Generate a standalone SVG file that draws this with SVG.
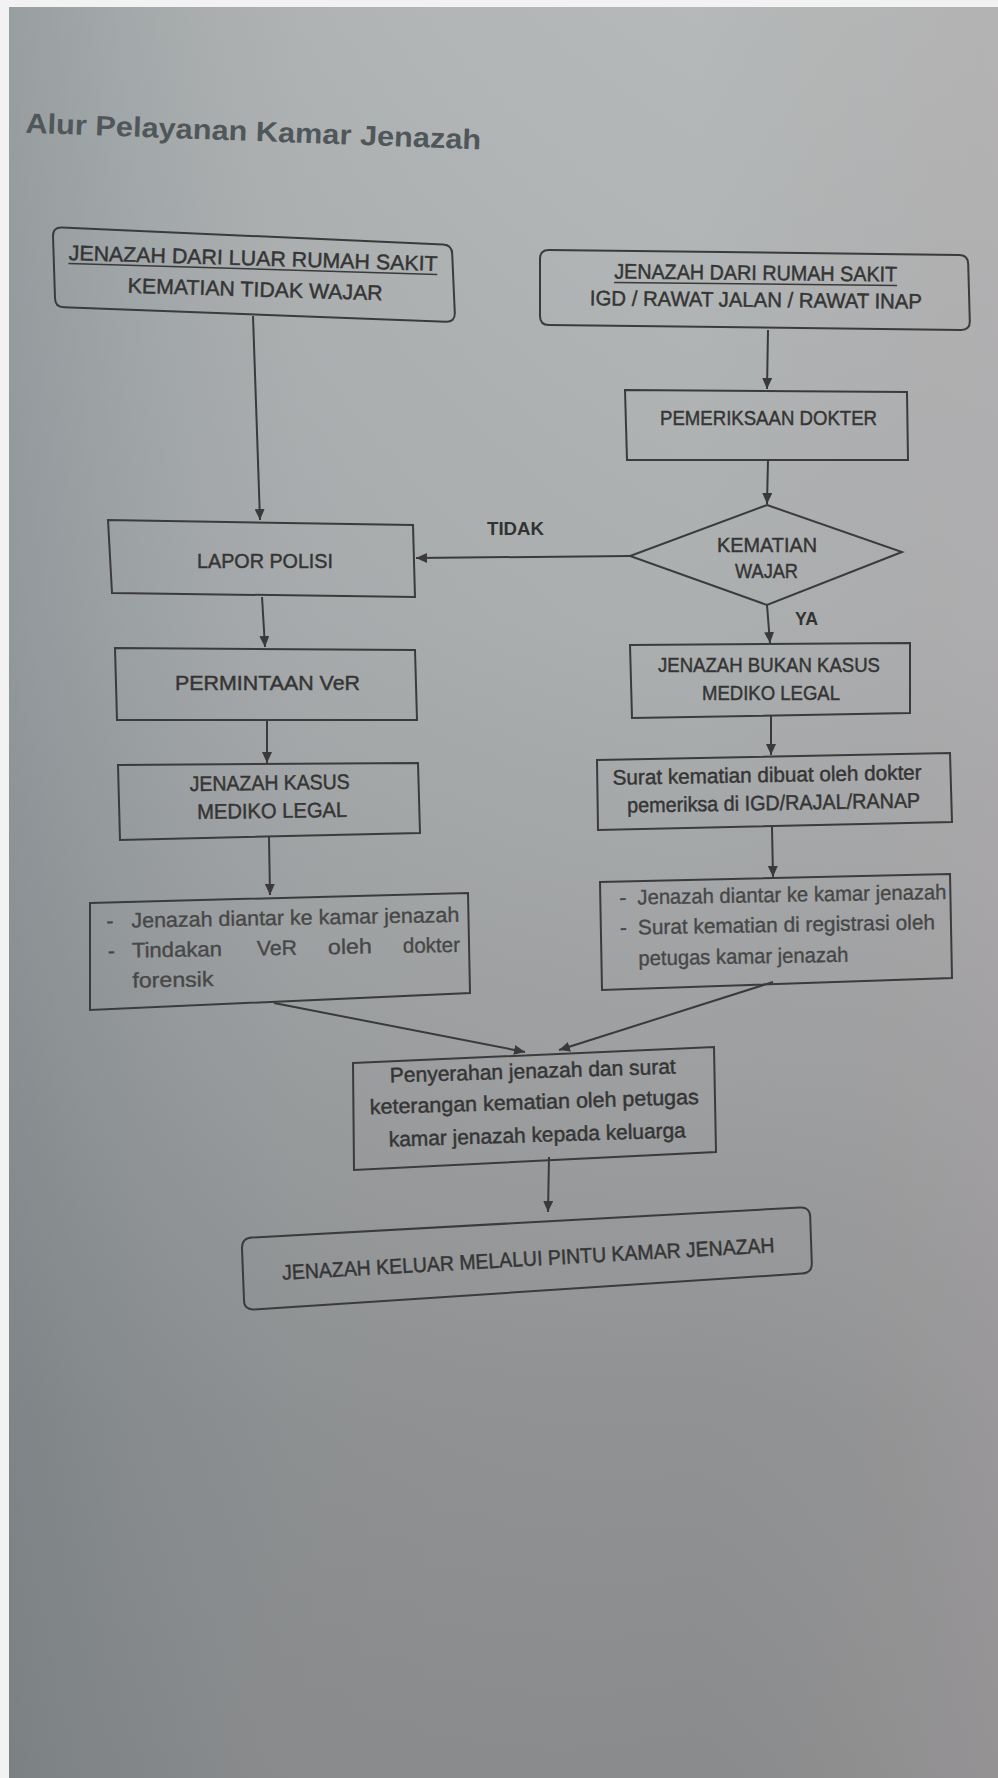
<svg xmlns="http://www.w3.org/2000/svg" width="998" height="1778" viewBox="0 0 998 1778">
<defs>
<linearGradient id="bgv" x1="0" y1="0" x2="0" y2="1">
<stop offset="0" stop-color="#b6b9b9"/>
<stop offset="0.35" stop-color="#acafb0"/>
<stop offset="0.6" stop-color="#9d9fa0"/>
<stop offset="0.8" stop-color="#8f9192"/>
<stop offset="1" stop-color="#8a8b8c"/>
</linearGradient>
<linearGradient id="bgh" x1="0" y1="0" x2="1" y2="0">
<stop offset="0" stop-color="#5e6c72" stop-opacity="0.35"/>
<stop offset="0.3" stop-color="#7f868c" stop-opacity="0.12"/>
<stop offset="0.7" stop-color="#9a9a9a" stop-opacity="0"/>
<stop offset="1" stop-color="#b0a4a8" stop-opacity="0.3"/>
</linearGradient>
<marker id="ah" markerUnits="userSpaceOnUse" markerWidth="12" markerHeight="12" refX="11" refY="5" orient="auto">
<path d="M0,0 L11,5 L0,10 Z" fill="#3a3a3a"/>
</marker>
<style>
.box{fill:none;stroke:#3b3b3b;stroke-width:2}
.t{font-family:"Liberation Sans",Arial,sans-serif;font-size:21px;fill:#353535;stroke:#353535;stroke-width:0.45;text-anchor:middle}
.ts{font-family:"Liberation Sans",Arial,sans-serif;font-size:21px;fill:#474747;stroke:#474747;stroke-width:0.35}
.lbl{font-family:"Liberation Sans",Arial,sans-serif;font-size:19px;font-weight:bold;fill:#333;text-anchor:middle}
.c{fill:none;stroke:#3a3a3a;stroke-width:2;marker-end:url(#ah)}
.ul{stroke:#3a3a3a;stroke-width:1.5}
</style>
</defs>
<rect x="0" y="0" width="998" height="1778" fill="url(#bgv)"/>
<rect x="0" y="0" width="998" height="1778" fill="url(#bgh)"/>
<rect x="0" y="0" width="9" height="1778" fill="#f2f2f2"/>
<rect x="0" y="0" width="998" height="7" fill="#f2f2f2"/>

<g id="title">
<text x="25" y="141" transform="rotate(2.1 253 141)" font-family="'Liberation Sans',Arial,sans-serif" font-size="28" font-weight="bold" fill="#50575a" textLength="456" lengthAdjust="spacingAndGlyphs">Alur Pelayanan Kamar Jenazah</text>
</g>

<g id="connectors">
<path class="c" d="M253,316 L260,520"/>
<path class="c" d="M768,330 L767,389"/>
<path class="c" d="M768,460 L767,504"/>
<path class="c" d="M630,556 L416,558"/>
<path class="c" d="M262,597 L265,647"/>
<path class="c" d="M267,721 L267,763"/>
<path class="c" d="M269,837 L270,895"/>
<path class="c" d="M767,605 L770,643"/>
<path class="c" d="M771,716 L771,755"/>
<path class="c" d="M772,827 L773,877"/>
<path class="c" d="M274,1003 L525,1052"/>
<path class="c" d="M773,982 L559,1050"/>
<path class="c" d="M549,1157 L548,1212"/>
<text class="lbl" x="515.5" y="535" textLength="57" lengthAdjust="spacingAndGlyphs">TIDAK</text>
<text class="lbl" x="806.5" y="625" textLength="23" lengthAdjust="spacingAndGlyphs">YA</text>
</g>

<g id="n-luar">
<path class="box" d="M62,227.4 L443,244.6 Q452,245 452.2,254 L454.8,313 Q455,322 446,321.7 L64,307.3 Q55,307 55,298 L53,236 Q53,227 62,227.4 Z"/>
<g transform="rotate(1.7 255 280)">
<text class="t" x="252.5" y="265.5" textLength="369" lengthAdjust="spacingAndGlyphs">JENAZAH DARI LUAR RUMAH SAKIT</text>
<line class="ul" x1="68" y1="269" x2="437" y2="269"/>
<text class="t" x="255.5" y="296.5" textLength="255" lengthAdjust="spacingAndGlyphs">KEMATIAN TIDAK WAJAR</text>
</g>
</g>

<g id="n-rs">
<path class="box" d="M549,250.1 L959,254.9 Q968,255 968.2,264 L969.8,321 Q970,330 961,329.9 L549,325.1 Q540,325 540,316 L540,259 Q540,250 549,250.1 Z"/>
<g transform="rotate(0.6 756 293)">
<text class="t" x="755.5" y="280" textLength="283" lengthAdjust="spacingAndGlyphs">JENAZAH DARI RUMAH SAKIT</text>
<line class="ul" x1="614" y1="284" x2="897" y2="284"/>
<text class="t" x="756" y="307" textLength="332" lengthAdjust="spacingAndGlyphs">IGD / RAWAT JALAN / RAWAT INAP</text>
</g>
</g>

<g id="n-periksa">
<polygon class="box" points="625,390 907,392 908,460 627,460"/>
<text class="t" x="768.5" y="425" textLength="217" lengthAdjust="spacingAndGlyphs">PEMERIKSAAN DOKTER</text>
</g>

<g id="n-wajar">
<polygon class="box" points="767,505 902,552 767,605 630,556"/>
<text class="t" x="767" y="552" textLength="100" lengthAdjust="spacingAndGlyphs">KEMATIAN</text>
<text class="t" x="766.5" y="578" textLength="63" lengthAdjust="spacingAndGlyphs">WAJAR</text>
</g>

<g id="n-lapor">
<polygon class="box" points="108,520 413,525 415,597 112,593"/>
<text class="t" x="265" y="568" textLength="136" lengthAdjust="spacingAndGlyphs">LAPOR POLISI</text>
</g>

<g id="n-ver">
<polygon class="box" points="115,648 415,650 417,720 117,720"/>
<text class="t" x="267.5" y="690" textLength="185" lengthAdjust="spacingAndGlyphs">PERMINTAAN VeR</text>
</g>

<g id="n-kasus">
<polygon class="box" points="118,765 418,763 420,833 120,840"/>
<g transform="rotate(-0.8 270 802)">
<text class="t" x="270" y="790" textLength="160" lengthAdjust="spacingAndGlyphs">JENAZAH KASUS</text>
<text class="t" x="272" y="818" textLength="150" lengthAdjust="spacingAndGlyphs">MEDIKO LEGAL</text>
</g>
</g>

<g id="n-forensik">
<polygon class="box" points="90,903 468,893 470,993 90,1010"/>
<g transform="rotate(-1 280 955)">
<text class="ts" x="107" y="925">-</text>
<text class="ts" x="132" y="925" textLength="328" lengthAdjust="spacingAndGlyphs">Jenazah diantar ke kamar jenazah</text>
<text class="ts" x="108" y="955">-</text>
<text class="ts" x="132" y="955" textLength="90" lengthAdjust="spacingAndGlyphs">Tindakan</text>
<text class="ts" x="257" y="955" textLength="40" lengthAdjust="spacingAndGlyphs">VeR</text>
<text class="ts" x="328" y="955" textLength="44" lengthAdjust="spacingAndGlyphs">oleh</text>
<text class="ts" x="403" y="955" textLength="57" lengthAdjust="spacingAndGlyphs">dokter</text>
<text class="ts" x="132" y="985" textLength="81" lengthAdjust="spacingAndGlyphs">forensik</text>
</g>
</g>

<g id="n-bukan">
<polygon class="box" points="630,645 910,643 910,713 632,718"/>
<text class="t" x="769" y="672" textLength="222" lengthAdjust="spacingAndGlyphs">JENAZAH BUKAN KASUS</text>
<text class="t" x="771" y="700" textLength="138" lengthAdjust="spacingAndGlyphs">MEDIKO LEGAL</text>
</g>

<g id="n-surat">
<polygon class="box" points="597,760 950,753 952,822 598,830"/>
<g transform="rotate(-1 773 795)">
<text class="t" x="767.5" y="782" textLength="309" lengthAdjust="spacingAndGlyphs">Surat kematian dibuat oleh dokter</text>
<text class="t" x="773.5" y="810" textLength="293" lengthAdjust="spacingAndGlyphs">pemeriksa di IGD/RAJAL/RANAP</text>
</g>
</g>

<g id="n-registrasi">
<polygon class="box" points="600,882 950,874 952,978 602,990"/>
<g transform="rotate(-1 775 930)">
<text class="ts" x="620" y="902">-</text>
<text class="ts" x="638" y="902" textLength="309" lengthAdjust="spacingAndGlyphs">Jenazah diantar ke kamar jenazah</text>
<text class="ts" x="620" y="932">-</text>
<text class="ts" x="638" y="932" textLength="297" lengthAdjust="spacingAndGlyphs">Surat kematian di registrasi oleh</text>
<text class="ts" x="638" y="963" textLength="210" lengthAdjust="spacingAndGlyphs">petugas kamar jenazah</text>
</g>
</g>

<g id="n-penyerahan">
<polygon class="box" points="353,1063 714,1047 716,1152 354,1170"/>
<g transform="rotate(-1.8 535 1110)">
<text class="t" x="534" y="1078" textLength="286" lengthAdjust="spacingAndGlyphs">Penyerahan jenazah dan surat</text>
<text class="t" x="534.5" y="1109" textLength="329" lengthAdjust="spacingAndGlyphs">keterangan kematian oleh petugas</text>
<text class="t" x="536.5" y="1142" textLength="297" lengthAdjust="spacingAndGlyphs">kamar jenazah kepada keluarga</text>
</g>
</g>

<g id="n-keluar">
<path class="box" d="M252,1237.5 L800,1207.5 Q810,1207 810.2,1217 L811.8,1263 Q812,1273 802,1273.6 L254,1309.4 Q244,1310 244,1300 L242,1248 Q242,1238 252,1237.5 Z"/>
<text class="t" x="528.5" y="1266" transform="rotate(-3.2 528 1262)" textLength="493" lengthAdjust="spacingAndGlyphs">JENAZAH KELUAR MELALUI PINTU KAMAR JENAZAH</text>
</g>
</svg>
